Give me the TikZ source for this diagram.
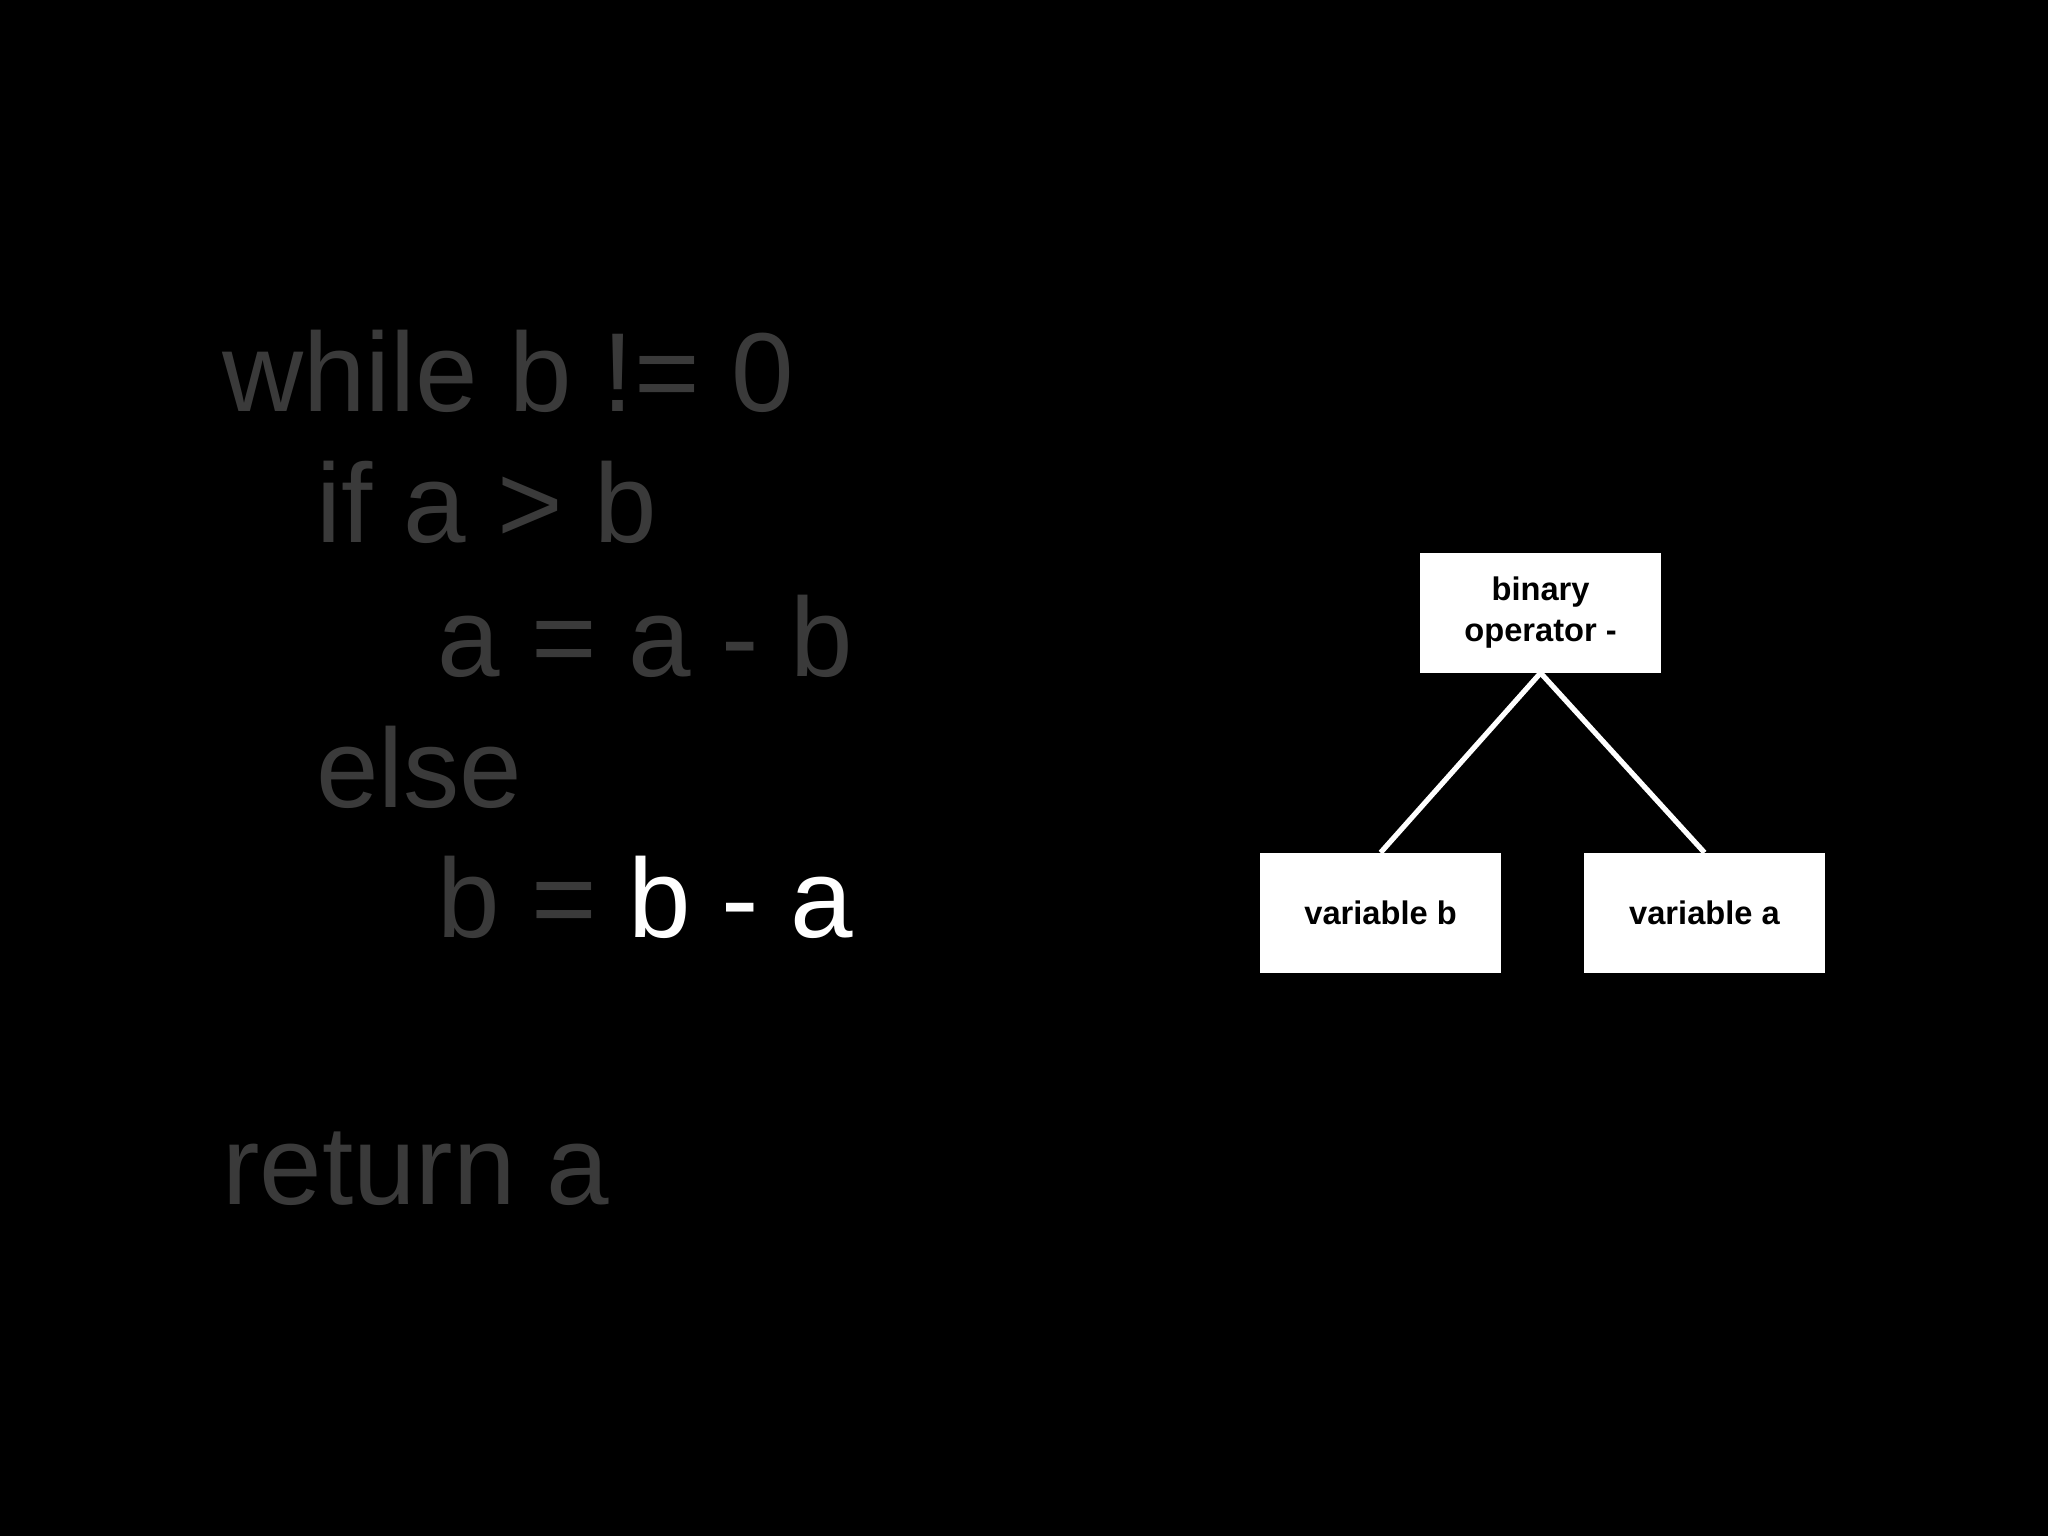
\documentclass[tikz,border=0pt]{standalone}
\usepackage{fontspec}
\setmainfont{Liberation Sans}
\definecolor{codegray}{HTML}{3A3A3A}
\begin{document}
\begin{tikzpicture}[x=1pt,y=-1pt,
  code/.style={anchor=base west,inner sep=0pt,text=codegray,font=\fontsize{86}{90}\selectfont},
  box/.style={fill=white,minimum width=184pt,minimum height=92pt,inner sep=0pt,align=center,font=\bfseries\fontsize{25}{31}\selectfont,text=black},
  edge/.style={draw=white,line width=4pt}]
\fill[black] (0,0) rectangle (1568,1176);
\node[code] (l1) at (170,315) {while b != 0};
\node[code] (l2) at (242,415) {if a > b};
\node[code] (l3) at (335,518) {a = a - b};
\node[code] (l4) at (242,618) {else};
\node[code] (l5) at (335,718) {b = \textcolor{white}{b - a}};
\node[code] (l6) at (170,922) {return a};
\node[box] (op) at (1179.5,469) {binary\\operator -};
\node[box] (vb) at (1057,699) {variable b};
\node[box] (va) at (1305,699) {variable a};
\draw[edge] (op.south) -- (vb.north);
\draw[edge] (op.south) -- (va.north);
\end{tikzpicture}
\end{document}
